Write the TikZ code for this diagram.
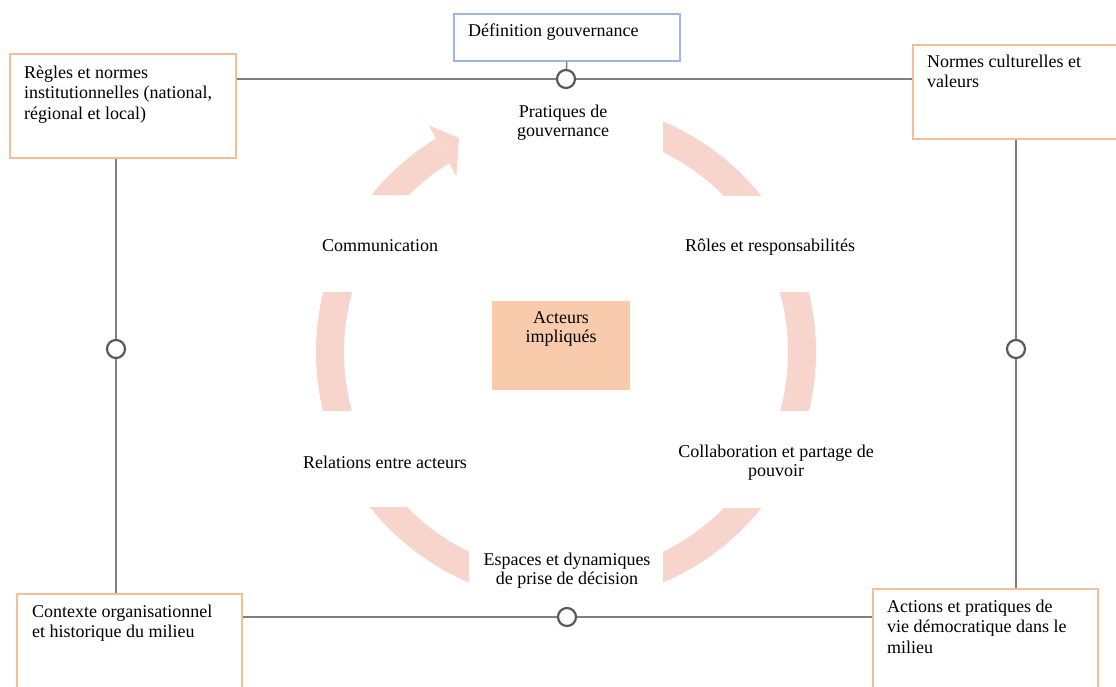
\documentclass[tikz,border=0pt]{standalone}
\usepackage{fontspec}
\setmainfont{Liberation Serif}
\usetikzlibrary{calc}
\definecolor{boxor}{HTML}{F5BE9B}
\definecolor{defblue}{HTML}{9DB5E0}
\definecolor{arcfill}{HTML}{F7D4CC}
\definecolor{actfill}{HTML}{F8CBAD}
\definecolor{linegray}{HTML}{7F7F7F}
\definecolor{circgray}{HTML}{595959}
\begin{document}
\begin{tikzpicture}[x=1pt,y=-1pt,
  frame/.style={draw=boxor,line width=2pt,fill=white,inner sep=0pt,anchor=north west},
  deftext/.style={font=\fontsize{18}{20.5}\selectfont,inner sep=0pt,anchor=north west,align=left},
  cyctext/.style={font=\fontsize{18}{19}\selectfont,inner sep=0pt,anchor=north,align=center},
  link/.style={draw=linegray,line width=1.5pt},
  knot/.style={circle,draw=circgray,line width=2.2pt,fill=white,minimum size=18pt,inner sep=0pt},
  ring/.style={fill=arcfill}]
\useasboundingbox (0,0) rectangle (1116,686);
\fill[white] (0,0) rectangle (1116,686);
\coordinate (C) at (566,352);
% ring segments
\begin{scope}
 \clip (663,0) rectangle (900,195);
 \fill[ring,even odd rule] (C) circle[radius=250] (C) circle[radius=222];
\end{scope}
\begin{scope}
 \clip (700,292) rectangle (900,410);
 \fill[ring,even odd rule] (C) circle[radius=250] (C) circle[radius=222];
\end{scope}
\begin{scope}
 \clip (663,508) rectangle (900,700);
 \fill[ring,even odd rule] (C) circle[radius=250] (C) circle[radius=222];
\end{scope}
\begin{scope}
 \clip (250,507) rectangle (469,700);
 \fill[ring,even odd rule] (C) circle[radius=250] (C) circle[radius=222];
\end{scope}
\begin{scope}
 \clip (250,292) rectangle (430,410);
 \fill[ring,even odd rule] (C) circle[radius=250] (C) circle[radius=222];
\end{scope}
\begin{scope}
 \clip ($(C)+(-121.5:150)$) -- ($(C)+(-121.5:400)$) -- (250,13) -- (250,195) -- (480,195) -- cycle;
 \fill[ring,even odd rule] (C) circle[radius=250] (C) circle[radius=222];
\end{scope}
\fill[ring] ($(C)+(-122:207)$) -- ($(C)+(-121.2:265)$) -- (459,138) -- cycle;
% central box
\node[fill=actfill,minimum width=138pt,minimum height=89pt,inner sep=0pt,anchor=north west] (acteursbox) at (492,301) {};
\node[cyctext] (acteurs) at (561,309.7) {\strut Acteurs\\impliqués};
% cycle texts
\node[cyctext] (pratiques) at (563,103.7) {\strut Pratiques de\\gouvernance};
\node[cyctext] (roles) at (770,237.7) {\strut Rôles et responsabilités};
\node[cyctext] (collab) at (776,443.7) {\strut Collaboration et partage de\\pouvoir};
\node[cyctext] (espaces) at (567,551.7) {\strut Espaces et dynamiques\\de prise de décision};
\node[cyctext] (relations) at (385,454.7) {\strut Relations entre acteurs};
\node[cyctext] (comm) at (380,237.7) {\strut Communication};
% outer boxes
\node[draw=defblue,line width=1.5pt,fill=white,inner sep=0pt,anchor=north west,minimum width=226pt,minimum height=47pt] (defn) at (453,13) {};
\node[deftext] (defnT) at (468,21.6) {\strut Définition gouvernance};
\node[frame,minimum width=226pt,minimum height=104pt] (regles) at (9,53) {};
\node[deftext] (reglesT) at (24,63.6) {\strut Règles et normes\\institutionnelles (national,\\régional et local)};
\node[frame,minimum width=215pt,minimum height=94pt] (normes) at (912,44) {};
\node[deftext] (normesT) at (927,52.6) {\strut Normes culturelles et\\valeurs};
\node[frame,minimum width=225pt,minimum height=120pt] (contexte) at (16,593) {};
\node[deftext] (contexteT) at (32,602.6) {\strut Contexte organisationnel\\et historique du milieu};
\node[frame,minimum width=225pt,minimum height=120pt] (actions) at (872,588) {};
\node[deftext] (actionsT) at (887,597.6) {\strut Actions et pratiques de\\vie démocratique dans le\\milieu};
% knots
\node[knot] (c1) at (566,79) {};
\node[knot] (c2) at (116,349) {};
\node[knot] (c3) at (1016,349) {};
\node[knot] (c4) at (567,617) {};
% links
\draw[link] (regles.east |- c1) -- (c1);
\draw[link] (c1) -- (normes.west |- c1);
\draw[link] (defn.south) -- (c1);
\draw[link] (regles.south -| c2) -- (c2);
\draw[link] (c2) -- (contexte.north -| c2);
\draw[link] (normes.south -| c3) -- (c3);
\draw[link] (c3) -- (actions.north -| c3);
\draw[link] (contexte.east |- c4) -- (c4);
\draw[link] (c4) -- (actions.west |- c4);
\end{tikzpicture}
\end{document}
